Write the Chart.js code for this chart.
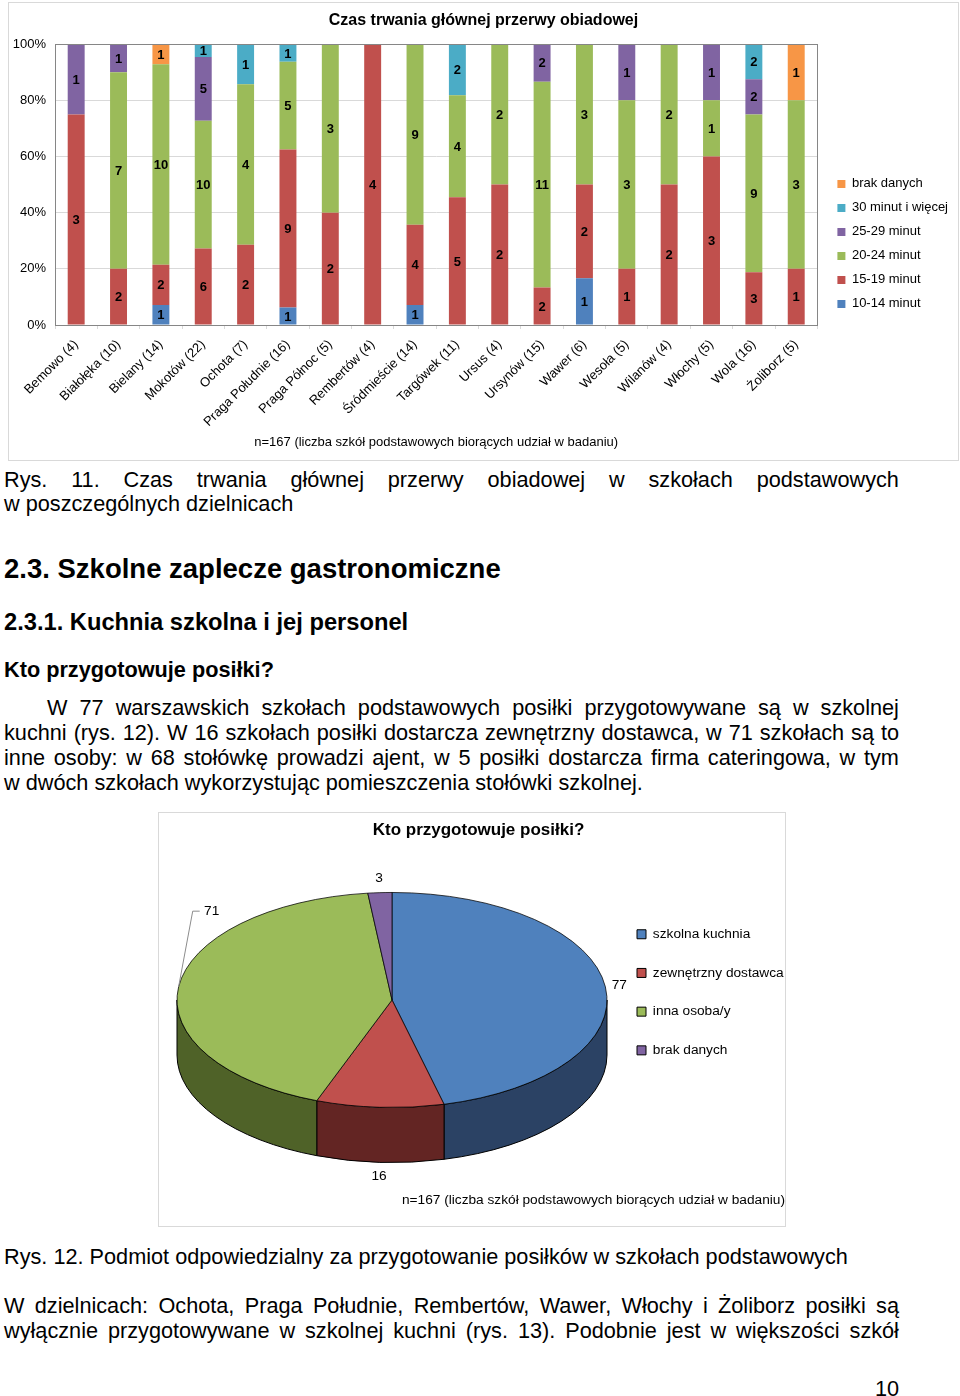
<!DOCTYPE html>
<html>
<head>
<meta charset="utf-8">
<title>Czas trwania głównej przerwy obiadowej</title>
<script src="https://cdn.jsdelivr.net/npm/chart.js@4.4.1/dist/chart.umd.min.js"></script>
<style>
  body { margin: 0; background: #fff; }
  #page { position: relative; width: 960px; height: 1396px; overflow: hidden; font-family: "Liberation Sans", Arial, sans-serif; color: #000; }
  .frame { position: absolute; border: 1px solid #d9d9d9; }
  .frame canvas { display: block; }
  .line { position: absolute; left: 4px; width: 895px; font-size: 21.7px; line-height: 25px; white-space: nowrap; }
  .just { display: flex; justify-content: space-between; }
  .b { font-weight: bold; }
</style>
</head>
<body>
<div id="page">
  <div class="frame" style="left:8px;top:2px;width:949px;height:457px"><canvas id="breakChart" width="949" height="457"></canvas></div>

  <div class="line just" style="top:467px">Rys. 11. Czas trwania głównej przerwy obiadowej w szkołach podstawowych</div>
  <div class="line" style="top:491px">w poszczególnych dzielnicach</div>

  <div class="line b" style="top:553px;font-size:27.5px;line-height:32px">2.3. Szkolne zaplecze gastronomiczne</div>
  <div class="line b" style="top:608px;font-size:23.7px;line-height:28px">2.3.1. Kuchnia szkolna i jej personel</div>
  <div class="line b" style="top:657px">Kto przygotowuje posiłki?</div>

  <div class="line just" style="top:695px;left:47px;width:852px">W 77 warszawskich szkołach podstawowych posiłki przygotowywane są w szkolnej</div>
  <div class="line just" style="top:720px">kuchni (rys. 12). W 16 szkołach posiłki dostarcza zewnętrzny dostawca, w 71 szkołach są to</div>
  <div class="line just" style="top:745px">inne osoby: w 68 stołówkę prowadzi ajent, w 5 posiłki dostarcza firma cateringowa, w tym</div>
  <div class="line" style="top:770px">w dwóch szkołach wykorzystując pomieszczenia stołówki szkolnej.</div>

  <div class="frame" style="left:158px;top:812px;width:626px;height:413px"><canvas id="mealChart" width="626" height="413"></canvas></div>

  <div class="line" style="top:1244px">Rys. 12. Podmiot odpowiedzialny za przygotowanie posiłków w szkołach podstawowych</div>
  <div class="line just" style="top:1293px">W dzielnicach: Ochota, Praga Południe, Rembertów, Wawer, Włochy i Żoliborz posiłki są</div>
  <div class="line just" style="top:1318px">wyłącznie przygotowywane w szkolnej kuchni (rys. 13). Podobnie jest w większości szkół</div>
  <div class="line" style="top:1376px;text-align:right">10</div>
</div>

<script>
// justified lines: one span per word, spread over the full width
document.querySelectorAll(".just").forEach((el) => {
  const words = el.textContent.trim().split(/\s+/)
  el.textContent = ""
  words.forEach((w) => {
    const s = document.createElement("span")
    s.textContent = w
    el.appendChild(s)
  })
})

Chart.defaults.font.family = "'Liberation Sans', Arial, sans-serif"
Chart.defaults.color = "#000"

// --- Rys. 11: czas trwania przerwy, liczba szkół w dzielnicy ---
const districts = [
  "Bemowo (4)", "Białołęka (10)", "Bielany (14)", "Mokotów (22)", "Ochota (7)",
  "Praga Południe (16)", "Praga Północ (5)", "Rembertów (4)", "Śródmieście (14)",
  "Targówek (11)", "Ursus (4)", "Ursynów (15)", "Wawer (6)", "Wesoła (5)",
  "Wilanów (4)", "Włochy (5)", "Wola (16)", "Żoliborz (5)"
]
const min10to14 = [0, 0, 1, 0, 0, 1, 0, 0, 1, 0, 0, 0, 1, 0, 0, 0, 0, 0]
const min15to19 = [3, 2, 2, 6, 2, 9, 2, 4, 4, 5, 2, 2, 2, 1, 2, 3, 3, 1]
const min20to24 = [0, 7, 10, 10, 4, 5, 3, 0, 9, 4, 2, 11, 3, 3, 2, 1, 9, 3]
const min25to29 = [1, 1, 0, 5, 0, 0, 0, 0, 0, 0, 0, 2, 0, 1, 0, 1, 2, 0]
const min30plus = [0, 0, 0, 1, 1, 1, 0, 0, 0, 2, 0, 0, 0, 0, 0, 0, 2, 0]
const noData = [0, 0, 1, 0, 0, 0, 0, 0, 0, 0, 0, 0, 0, 0, 0, 0, 0, 1]
const percentTicks = [0, 20, 40, 60, 80, 100]

// --- Rys. 12: kto przygotowuje posiłki ---
const mealLabels = ["szkolna kuchnia", "zewnętrzny dostawca", "inna osoba/y", "brak danych"]
const mealValues = [77, 16, 71, 3]

const breakSeries = [
  { label: "10-14 minut", counts: min10to14, color: "#4f81bd" },
  { label: "15-19 minut", counts: min15to19, color: "#c0504d" },
  { label: "20-24 minut", counts: min20to24, color: "#9bbb59" },
  { label: "25-29 minut", counts: min25to29, color: "#8064a2" },
  { label: "30 minut i więcej", counts: min30plus, color: "#4bacc6" },
  { label: "brak danych", counts: noData, color: "#f79646" }
]
const totals = districts.map((d, i) => breakSeries.reduce((sum, s) => sum + s.counts[i], 0))

const plotFrame = {
  id: "plotFrame",
  afterDatasetsDraw(chart) {
    const { ctx, chartArea: a } = chart
    ctx.save()
    ctx.strokeStyle = "#868686"
    ctx.lineWidth = 1
    ctx.strokeRect(Math.round(a.left) + 0.5, Math.round(a.top) + 0.5, Math.round(a.right - a.left), Math.round(a.bottom - a.top))
    ctx.restore()
  }
}

const segmentLabels = {
  id: "segmentLabels",
  afterDatasetsDraw(chart) {
    const ctx = chart.ctx
    ctx.save()
    ctx.font = "bold 13px 'Liberation Sans', Arial, sans-serif"
    ctx.fillStyle = "#000"
    ctx.textAlign = "center"
    ctx.textBaseline = "middle"
    chart.data.datasets.forEach((ds, di) => {
      chart.getDatasetMeta(di).data.forEach((bar, i) => {
        const n = ds.counts[i]
        if (!n) return
        ctx.fillText(n, bar.x, (bar.y + bar.base) / 2 + 1)
      })
    })
    ctx.restore()
  }
}

new Chart(document.getElementById("breakChart"), {
  type: "bar",
  data: {
    labels: districts,
    datasets: breakSeries.map((s) => ({
      label: s.label,
      counts: s.counts,
      data: s.counts.map((v, i) => (v / totals[i]) * 100),
      backgroundColor: s.color,
      borderWidth: 0,
      barPercentage: 0.4,
      categoryPercentage: 1
    }))
  },
  options: {
    responsive: false,
    animation: false,
    events: [],
    layout: { padding: 0 },
    plugins: {
      title: {
        display: true,
        text: "Czas trwania głównej przerwy obiadowej",
        font: { size: 16, weight: "bold" },
        padding: { top: 8, bottom: 14 }
      },
      legend: {
        position: "right",
        align: "start",
        reverse: true,
        title: { display: true, text: "", padding: { top: 149, bottom: 0 } },
        labels: { boxWidth: 8, boxHeight: 8, padding: 11, font: { size: 13 }, color: "#000" }
      },
      tooltip: { enabled: false }
    },
    scales: {
      x: {
        stacked: true,
        grid: { drawOnChartArea: false, tickLength: 4, color: "#d9d9d9" },
        border: { color: "#868686" },
        ticks: { minRotation: 45, maxRotation: 45, font: { size: 13 }, color: "#000", padding: 8 },
        title: {
          display: true,
          text: "n=167 (liczba szkół podstawowych biorących udział w badaniu)",
          font: { size: 13 },
          padding: { top: 0, bottom: 10 }
        },
        afterFit: (scale) => { scale.height = 135 }
      },
      y: {
        stacked: true,
        min: 0,
        max: 100,
        afterBuildTicks: (scale) => { scale.ticks = percentTicks.map((v) => ({ value: v })) },
        grid: { color: "#d9d9d9", drawTicks: false },
        border: { color: "#868686" },
        ticks: { font: { size: 13 }, color: "#000", padding: 9, callback: (v) => v + "%" },
        afterFit: (scale) => { scale.width = 46 }
      },
      // empty strip between the plot and the legend
      gap: {
        axis: "y",
        position: "right",
        grid: { display: false },
        border: { display: false },
        ticks: { display: false },
        afterFit: (scale) => { scale.width = 9 }
      }
    }
  },
  plugins: [plotFrame, segmentLabels]
})

// --- pseudo-3D pie: tilted top face plus front side walls ---
const pie3d = {
  id: "pie3d",
  beforeDatasetsDraw(chart, args, opts) {
    const ctx = chart.ctx
    const arcs = chart.getDatasetMeta(0).data
    if (!arcs.length) return
    const { x, y, outerRadius: r } = arcs[0]
    const k = opts.tilt
    const d = opts.depth
    ctx.save()
    arcs.forEach((arc, i) => {
      const { startAngle, endAngle } = arc
      const fronts = [[-2 * Math.PI, -Math.PI], [0, Math.PI], [2 * Math.PI, 3 * Math.PI]]
      fronts.forEach(([lo, hi]) => {
        const a1 = Math.max(startAngle, lo)
        const a2 = Math.min(endAngle, hi)
        if (a2 <= a1) return
        ctx.beginPath()
        ctx.ellipse(x, y, r, r * k, 0, a1, a2)
        ctx.ellipse(x, y + d, r, r * k, 0, a2, a1, true)
        ctx.closePath()
        ctx.fillStyle = opts.sideColors[i]
        ctx.fill()
        ctx.lineWidth = 1
        ctx.strokeStyle = "#000"
        ctx.stroke()
      })
    })
    ctx.restore()
    // top face: the library draws the pie, squashed vertically
    ctx.save()
    ctx.translate(x, y)
    ctx.scale(1, k)
    ctx.translate(-x, -y)
  },
  afterDatasetsDraw(chart, args, opts) {
    const ctx = chart.ctx
    ctx.restore()
    const arcs = chart.getDatasetMeta(0).data
    if (!arcs.length) return
    const { x, y, outerRadius: r } = arcs[0]
    const k = opts.tilt
    const d = opts.depth
    const values = chart.data.datasets[0].data
    ctx.save()
    ctx.font = "13.7px 'Liberation Sans', Arial, sans-serif"
    ctx.fillStyle = "#000"
    ctx.textAlign = "center"
    ctx.textBaseline = "middle"
    arcs.forEach((arc, i) => {
      const mid = (arc.startAngle + arc.endAngle) / 2
      const c = Math.cos(mid)
      const s = Math.sin(mid)
      let lx = x + (r + opts.gap) * c
      let ly = y + (r * k + opts.gap) * s + (s > 0 ? d : 0)
      const shift = opts.shift[i]
      if (shift) {
        lx += shift[0]
        ly += shift[1]
        ctx.beginPath()
        ctx.moveTo(x + r * c, y + r * k * s)
        ctx.lineTo(lx - 19, ly)
        ctx.lineTo(lx - 12, ly)
        ctx.strokeStyle = "#8c8c8c"
        ctx.lineWidth = 1
        ctx.stroke()
      }
      ctx.fillText(values[i], lx, ly)
    })
    ctx.restore()
  }
}

new Chart(document.getElementById("mealChart"), {
  type: "pie",
  data: {
    labels: mealLabels,
    datasets: [{
      data: mealValues,
      backgroundColor: ["#4f81bd", "#c0504d", "#9bbb59", "#8064a2"],
      borderColor: "#000",
      borderWidth: 1,
      clip: false
    }]
  },
  options: {
    responsive: false,
    animation: false,
    events: [],
    radius: 215,
    layout: { padding: { left: 13, right: 0 } },
    plugins: {
      title: {
        display: true,
        text: "Kto przygotowuje posiłki?",
        font: { size: 17, weight: "bold" },
        padding: { top: 7, bottom: 3 }
      },
      subtitle: {
        display: true,
        position: "bottom",
        align: "end",
        text: "n=167 (liczba szkół podstawowych biorących udział w badaniu)",
        font: { size: 13.7 },
        padding: { top: 35, bottom: 18 }
      },
      legend: {
        position: "right",
        align: "start",
        maxWidth: 173,
        title: { display: true, text: "", padding: { top: 75, bottom: 0 } },
        labels: { boxWidth: 9, boxHeight: 9, padding: 25, font: { size: 13.7 }, color: "#000" }
      },
      tooltip: { enabled: false },
      pie3d: {
        tilt: 0.5,
        depth: 55,
        gap: 14,
        sideColors: ["#2b4264", "#632523", "#4f6228", "#3f3151"],
        shift: [null, null, [47, -74], null]
      }
    }
  },
  plugins: [pie3d]
})
</script>
</body>
</html>
